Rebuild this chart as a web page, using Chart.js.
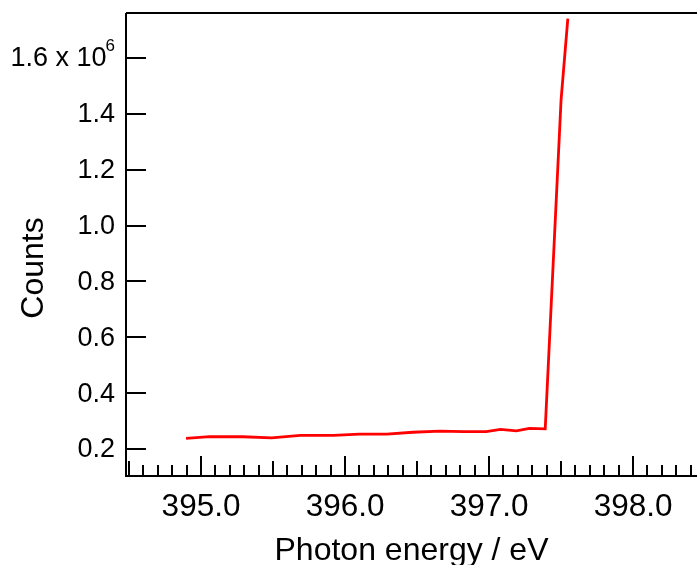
<!DOCTYPE html>
<html>
<head>
<meta charset="utf-8">
<script src="https://cdn.jsdelivr.net/npm/chart.js@4"></script>
<style>
  body { margin: 0; background: #fff; }
  canvas { display: block; }
</style>
</head>
<body>
<canvas id="spectrumChart" width="697" height="565"></canvas>
<script>
// photon energy (eV) and counts (in units of 10^6)
const energy = [394.896, 395.06, 395.29, 395.49, 395.69, 395.92, 396.10, 396.29, 396.47,
                396.66, 396.82, 396.98, 397.08, 397.19, 397.28, 397.39, 397.50, 397.547];
const counts = [0.238, 0.244, 0.244, 0.240, 0.249, 0.249, 0.253, 0.253, 0.260,
                0.264, 0.262, 0.262, 0.270, 0.265, 0.274, 0.272, 1.449, 1.741];

const xTicks = [395, 396, 397, 398];
const yTicks = [0.2, 0.4, 0.6, 0.8, 1.0, 1.2, 1.4, 1.6];
const xTitle = 'Photon energy / eV';
const yTitle = 'Counts';

const FONT = '"Liberation Sans", Arial, sans-serif';

// Igor-style frame: axes lines, inward ticks, y labels with exponent, titles
const framePlugin = {
    id: 'frame',
    afterDraw(chart) {
        const ctx = chart.ctx;
        const area = chart.chartArea;
        const xs = chart.scales.x;
        const ys = chart.scales.y;
        ctx.save();
        ctx.strokeStyle = '#000';
        ctx.lineWidth = 2;
        ctx.beginPath();
        ctx.moveTo(area.left, area.top);
        ctx.lineTo(area.right, area.top);
        ctx.moveTo(area.left, area.top);
        ctx.lineTo(area.left, area.bottom);
        ctx.lineTo(area.right, area.bottom);
        ctx.stroke();

        // x ticks every 0.1 eV, pointing up
        ctx.beginPath();
        for (let i = Math.ceil(xs.min * 10); i <= Math.floor(xs.max * 10); i++) {
            const px = Math.round(xs.getPixelForValue(i / 10));
            let len = 11;
            if (i % 10 === 0) len = 20;
            else if (i % 5 === 0) len = 15;
            ctx.moveTo(px, area.bottom);
            ctx.lineTo(px, area.bottom - len);
        }
        // y ticks pointing right
        yTicks.forEach(v => {
            const py = Math.round(ys.getPixelForValue(v));
            ctx.moveTo(area.left, py);
            ctx.lineTo(area.left + 20, py);
        });
        ctx.stroke();

        // y labels
        ctx.fillStyle = '#000';
        ctx.textBaseline = 'middle';
        ctx.textAlign = 'right';
        const labelRight = area.left - 11;
        yTicks.forEach((v, idx) => {
            const py = ys.getPixelForValue(v);
            ctx.font = '27px ' + FONT;
            if (idx === yTicks.length - 1) {
                ctx.font = '17px ' + FONT;
                ctx.fillText('6', labelRight, py - 12);
                const w = ctx.measureText('6').width;
                ctx.font = '27px ' + FONT;
                ctx.fillText(v.toFixed(1) + ' x 10', labelRight - w + 1, py + 1);
            } else {
                ctx.fillText(v.toFixed(1), labelRight, py + 1);
            }
        });

        // axis titles
        ctx.font = '32px ' + FONT;
        ctx.textAlign = 'center';
        ctx.textBaseline = 'alphabetic';
        ctx.fillText(xTitle, (area.left + area.right) / 2, 560);
        ctx.translate(43, 268);
        ctx.rotate(-Math.PI / 2);
        ctx.fillText(yTitle, 0, 0);
        ctx.restore();
    }
};

new Chart(document.getElementById('spectrumChart'), {
    type: 'line',
    data: {
        datasets: [{
            label: 'Counts',
            data: energy.map((e, i) => ({ x: e, y: counts[i] })),
            borderColor: '#ff0000',
            borderWidth: 2.8,
            pointRadius: 0,
            tension: 0,
            fill: false
        }]
    },
    options: {
        responsive: false,
        animation: false,
        layout: { padding: { top: 13, left: 0, right: 0, bottom: 0 } },
        plugins: {
            legend: { display: false },
            tooltip: { enabled: false }
        },
        scales: {
            x: {
                type: 'linear',
                min: 394.479,
                max: 398.444,
                grid: { display: false, drawTicks: false },
                border: { display: false },
                afterBuildTicks: scale => { scale.ticks = xTicks.map(v => ({ value: v })); },
                afterFit: scale => { scale.height = 89; },
                ticks: {
                    color: '#000',
                    font: { family: FONT, size: 31.5 },
                    padding: 12,
                    maxRotation: 0,
                    autoSkip: false,
                    callback: v => v.toFixed(1)
                }
            },
            y: {
                type: 'linear',
                min: 0.1034,
                max: 1.761,
                grid: { display: false, drawTicks: false },
                border: { display: false },
                afterBuildTicks: scale => { scale.ticks = yTicks.map(v => ({ value: v })); },
                afterFit: scale => { scale.width = 126; },
                ticks: { display: false }
            }
        }
    },
    plugins: [framePlugin]
});
</script>
</body>
</html>
